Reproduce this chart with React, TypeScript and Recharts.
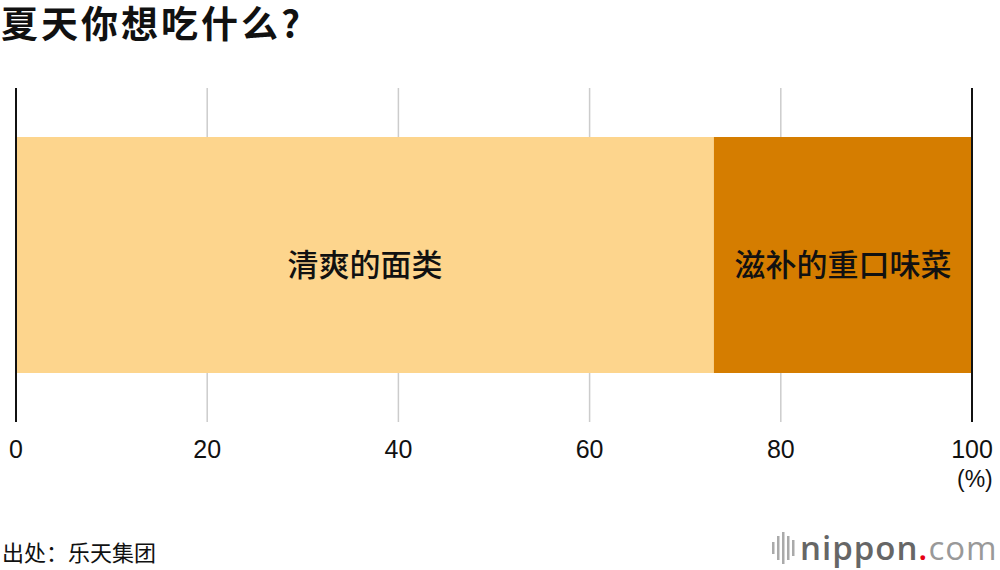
import React from "react";
import { BarChart, Bar, XAxis, YAxis, CartesianGrid, ReferenceLine, LabelList } from "recharts";

const categories = ["夏天你想吃什么"];
const seriesNames = ["清爽的面类", "滋补的重口味菜"];
const seriesValues = [73, 27];
const seriesColors = ["#FDD58D", "#D57D00"];
const xTicks = [0, 20, 40, 60, 80, 100];

const data = categories.map((c) => {
  const row: any = { name: c };
  seriesNames.forEach((s, i) => {
    row["s" + i] = seriesValues[i];
  });
  return row;
});

const FONT = "'Noto Sans CJK SC', 'Noto Sans', sans-serif";
const NUMFONT = "'Liberation Sans', Arial, sans-serif";

export default function App() {
  return (
    <div style={{ position: "absolute", left: 0, top: 0, width: 1000, height: 570, background: "#fff", fontFamily: FONT }}>
      <svg style={{ position: "absolute", left: 0, top: 0 }} width={420} height={56}>
        <text x={1} y={38} fontSize={37} fontWeight={700} fill="#111" letterSpacing={3} fontFamily={FONT}>
          夏天你想吃什么?
        </text>
      </svg>
      <div style={{ position: "absolute", left: 0, top: 60 }}>
        <BarChart
          width={1000}
          height={410}
          data={data}
          layout="vertical"
          margin={{ top: 28, right: 28, left: 16, bottom: 8 }}
          barCategoryGap={0}
        >
          <CartesianGrid horizontal={false} stroke="#cccccc" strokeWidth={1.5} />
          <XAxis
            type="number"
            domain={[0, 100]}
            ticks={xTicks}
            axisLine={false}
            tickLine={false}
            tickSize={0}
            tickMargin={18}
            height={40}
            interval={0}
            tick={{ fill: "#111", fontSize: 25, fontFamily: NUMFONT }}
          />
          <YAxis type="category" dataKey="name" hide />
          {seriesNames.map((s, i) => (
            <Bar key={s} dataKey={"s" + i} stackId="a" fill={seriesColors[i]} barSize={236} isAnimationActive={false}>
              <LabelList
                dataKey={"s" + i}
                position="center"
                content={(props: any) => {
                  const { x, y, width, height } = props;
                  return (
                    <text
                      x={x + width / 2}
                      y={y + height / 2 + 21}
                      textAnchor="middle"
                      fontSize={31}
                      fontWeight={500}
                      fontFamily={FONT}
                      fill="#111"
                    >
                      {s}
                    </text>
                  );
                }}
              />
            </Bar>
          ))}
          <ReferenceLine x={0} stroke="#111" strokeWidth={2} />
          <ReferenceLine x={100} stroke="#111" strokeWidth={2} />
        </BarChart>
      </div>
      <div style={{ position: "absolute", left: 957, top: 466, fontSize: 23, fontFamily: NUMFONT, color: "#111" }}>(%)</div>
      <div style={{ position: "absolute", left: 2, top: 536, lineHeight: "30px", fontSize: 22, color: "#111", whiteSpace: "nowrap" }}>出处：乐天集团</div>
      <div style={{ position: "absolute", left: 770, top: 530, height: 36, display: "flex", alignItems: "center" }}>
        <svg width={30} height={36}>
          {[[2, 12, 12], [7, 6, 24], [12, 2, 32], [17, 6, 24], [22, 10, 16]].map((b, i) => (
            <rect key={i} x={b[0]} y={b[1]} width={2.5} height={b[2]} fill="#aaa" />
          ))}
        </svg>
        <span style={{ fontFamily: "'Open Sans', sans-serif", fontSize: 33, lineHeight: "36px", fontWeight: 600, color: "#666", letterSpacing: 1, whiteSpace: "nowrap" }}>
          nippon<span style={{ color: "#e60012" }}>.</span><span style={{ fontWeight: 400, color: "#999" }}>com</span>
        </span>
      </div>
    </div>
  );
}
